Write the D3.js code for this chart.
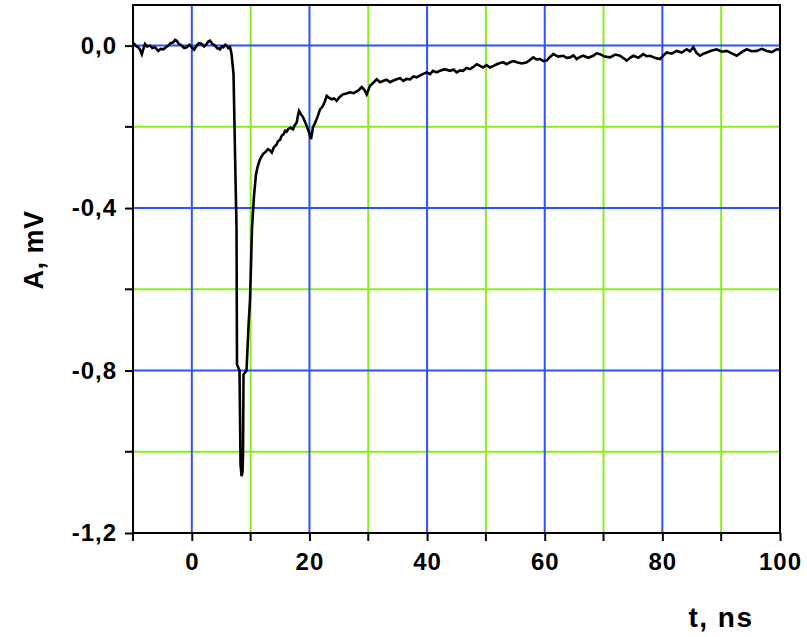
<!DOCTYPE html>
<html>
<head>
<meta charset="utf-8">
<script src="https://cdn.jsdelivr.net/npm/d3@7"></script>
<style>
  html, body { margin: 0; padding: 0; background: #fff; }
  svg { display: block; }
  text { font-family: "Liberation Sans", Arial, Helvetica, sans-serif; font-weight: bold; fill: #000; }
</style>
</head>
<body>
<svg id="chart" width="807" height="637"></svg>
<script>
// Detector response: amplitude (mV) versus time (ns)
const timeNs = [
  -10.0, -9.8, -9.4, -9.1, -8.8, -8.5, -8.2, -7.96, -7.6, -7.1, -6.7, -6.26, -5.9, -5.7, -5.3,
  -4.85, -4.4, -4.0, -3.6, -3.15, -2.85, -2.57, -2.2, -1.72, -1.3, -0.87, -0.4, -0.02, 0.4, 0.83,
  1.2, 1.68, 2.1, 2.53, 2.8, 3.09, 3.5, 3.94, 4.3, 4.79, 5.1, 5.36, 5.7, 5.93, 6.2, 6.49,
  6.75, 7.09, 7.43, 7.6, 7.68, 8.11, 8.28, 8.45, 8.62, 8.70, 8.79, 9.30, 9.64, 9.90,
  10.23, 10.57, 10.91, 11.2, 11.6, 12.1, 12.5, 12.95, 13.3, 13.6, 13.9, 14.15, 14.4, 14.66,
  15.0, 15.28, 15.6, 15.85, 16.1, 16.36, 16.8, 17.2, 17.5, 17.83, 18.0, 18.23, 18.6, 18.9,
  19.2, 19.53, 19.9, 20.27, 20.6, 20.9, 21.23, 21.5, 21.8, 22.05, 22.3, 22.6, 22.93, 23.3,
  23.78, 24.2, 24.63, 25.1, 25.7, 26.3, 26.9, 27.5, 28.26, 28.88, 29.3, 29.73, 30.3, 30.8,
  31.43, 32.0, 32.5, 33.1, 33.7, 34.3, 34.83, 35.4, 35.96, 36.5, 37.1, 37.7, 38.23, 39.0,
  39.93, 40.5, 41.0, 41.6, 42.2, 43.0, 43.9, 44.5, 45.04, 45.6, 46.1, 46.7, 47.3, 47.9,
  48.44, 49.0, 49.5, 50.1, 50.7, 51.3, 51.84, 52.4, 52.96, 53.5, 54.1, 54.7, 55.24, 56.1,
  56.94, 57.5, 58.06, 58.6, 59.2, 59.8, 60.34, 60.9, 61.46, 62.3, 63.16, 63.7, 64.3, 64.9,
  65.44, 66.0, 66.56, 67.4, 68.26, 68.8, 69.4, 70.2, 71.1, 72.0, 72.8, 73.4, 73.94, 74.5,
  75.06, 75.9, 76.76, 77.3, 77.9, 78.7, 79.6, 80.2, 80.74, 81.6, 82.44, 83.3, 84.14, 84.7,
  85.27, 85.8, 86.4, 87.0, 87.54, 88.4, 89.24, 90.1, 90.94, 91.8, 92.64, 93.5, 94.34, 95.2,
  96.04, 96.9, 97.74, 98.6, 99.44, 100.0
];
const ampMv = [
  0.002, 0.004, -0.002, -0.004, -0.010, -0.021, -0.006, 0.004, -0.002, 0.000, -0.006, -0.004, -0.010, -0.013, -0.008,
  -0.009, -0.004, 0.000, 0.006, 0.008, 0.014, 0.012, 0.004, 0.000, -0.006, -0.004, 0.002, -0.004, -0.010, 0.000,
  0.006, 0.004, -0.002, 0.004, 0.010, 0.012, 0.004, 0.000, -0.006, -0.009, -0.002, -0.004, 0.002, 0.000, -0.006, -0.004,
  -0.020, -0.070, -0.330, -0.450, -0.785, -0.800, -1.030, -1.060, -1.050, -1.010, -0.810, -0.800, -0.690, -0.625,
  -0.450, -0.370, -0.317, -0.297, -0.280, -0.267, -0.262, -0.255, -0.258, -0.263, -0.252, -0.247, -0.244, -0.235,
  -0.232, -0.222, -0.218, -0.210, -0.212, -0.206, -0.202, -0.206, -0.196, -0.189, -0.175, -0.161, -0.170, -0.176,
  -0.186, -0.198, -0.212, -0.230, -0.201, -0.192, -0.181, -0.170, -0.157, -0.153, -0.148, -0.138, -0.124, -0.128,
  -0.132, -0.130, -0.136, -0.127, -0.120, -0.118, -0.115, -0.117, -0.111, -0.102, -0.108, -0.120, -0.099, -0.092,
  -0.083, -0.090, -0.087, -0.084, -0.090, -0.086, -0.083, -0.080, -0.087, -0.082, -0.083, -0.076, -0.078, -0.072,
  -0.066, -0.070, -0.062, -0.066, -0.062, -0.058, -0.062, -0.059, -0.066, -0.061, -0.062, -0.055, -0.058, -0.052,
  -0.046, -0.050, -0.054, -0.048, -0.054, -0.050, -0.046, -0.043, -0.041, -0.046, -0.041, -0.038, -0.041, -0.044,
  -0.041, -0.035, -0.029, -0.034, -0.033, -0.038, -0.037, -0.028, -0.021, -0.027, -0.025, -0.030, -0.029, -0.024,
  -0.033, -0.028, -0.025, -0.030, -0.025, -0.019, -0.021, -0.027, -0.029, -0.022, -0.025, -0.031, -0.037, -0.030,
  -0.025, -0.030, -0.021, -0.026, -0.025, -0.030, -0.033, -0.024, -0.017, -0.020, -0.013, -0.017, -0.009, -0.014,
  -0.004, -0.018, -0.025, -0.020, -0.017, -0.012, -0.009, -0.015, -0.013, -0.019, -0.025, -0.016, -0.009, -0.014,
  -0.013, -0.008, -0.013, -0.016, -0.009, -0.010
];

// Axis ticks
const xMajorTicks = [0, 20, 40, 60, 80, 100];
const xMinorTicks = [-10, 10, 30, 50, 70, 90];
const yMajorTicks = [0.0, -0.4, -0.8, -1.2];
const yMinorTicks = [-0.2, -0.6, -1.0];
const xTitle = "t, ns";
const yTitle = "A, mV";

const svg = d3.select("#chart");
const plotLeft = 133, plotRight = 780, plotTop = 5, plotBottom = 533;

const x = d3.scaleLinear().domain([-10, 100]).range([plotLeft, plotRight]);
const y = d3.scaleLinear().domain([-1.2, 0.1]).range([plotBottom, plotTop]);

const commaLocale = d3.formatLocale({
  decimal: ",", thousands: ".", grouping: [3], currency: ["", ""], minus: "-"
});
const fmtY = commaLocale.format(".1f");

const blue = "#2f50ff";
const green = "#86ee1c";

// grid: green at the intermediate ticks, blue at the labelled ones
const grid = svg.append("g");
grid.append("g").selectAll("line").data(xMinorTicks.filter(d => d > -10)).join("line")
  .attr("x1", d => x(d)).attr("x2", d => x(d)).attr("y1", plotTop).attr("y2", plotBottom)
  .attr("stroke", green).attr("stroke-width", 2);
grid.append("g").selectAll("line").data(yMinorTicks).join("line")
  .attr("x1", plotLeft).attr("x2", plotRight).attr("y1", d => y(d)).attr("y2", d => y(d))
  .attr("stroke", green).attr("stroke-width", 2);
grid.append("g").selectAll("line").data(xMajorTicks.filter(d => d < 100)).join("line")
  .attr("x1", d => x(d)).attr("x2", d => x(d)).attr("y1", plotTop).attr("y2", plotBottom)
  .attr("stroke", blue).attr("stroke-width", 2);
grid.append("g").selectAll("line").data(yMajorTicks.filter(d => d > -1.2)).join("line")
  .attr("x1", plotLeft).attr("x2", plotRight).attr("y1", d => y(d)).attr("y2", d => y(d))
  .attr("stroke", blue).attr("stroke-width", 2);

// signal trace
const points = timeNs.map((t, i) => [t, ampMv[i]]);
svg.append("path")
  .datum(points)
  .attr("fill", "none")
  .attr("stroke", "#000")
  .attr("stroke-width", 2.6)
  .attr("stroke-linejoin", "miter")
  .attr("d", d3.line().x(d => x(d[0])).y(d => y(d[1])));

// frame
svg.append("rect")
  .attr("x", plotLeft).attr("y", plotTop)
  .attr("width", plotRight - plotLeft).attr("height", plotBottom - plotTop)
  .attr("fill", "none").attr("stroke", "#000").attr("stroke-width", 2);

// axes
const xAxis = svg.append("g").attr("transform", `translate(0,${plotBottom})`)
  .call(d3.axisBottom(x).tickValues(xMajorTicks).tickFormat(d3.format("d"))
    .tickSize(8).tickSizeOuter(0).tickPadding(12));
xAxis.append("g").selectAll("line").data(xMinorTicks).join("line")
  .attr("x1", d => x(d)).attr("x2", d => x(d)).attr("y1", 0).attr("y2", 8)
  .attr("stroke", "#000").attr("stroke-width", 2);

const yAxis = svg.append("g").attr("transform", `translate(${plotLeft},0)`)
  .call(d3.axisLeft(y).tickValues(yMajorTicks).tickFormat(fmtY)
    .tickSize(8).tickSizeOuter(0).tickPadding(9));
yAxis.append("g").selectAll("line").data(yMinorTicks).join("line")
  .attr("x1", -8).attr("x2", 0).attr("y1", d => y(d)).attr("y2", d => y(d))
  .attr("stroke", "#000").attr("stroke-width", 2);

[xAxis, yAxis].forEach(a => {
  a.select(".domain").remove();
  a.selectAll(".tick line").attr("stroke", "#000").attr("stroke-width", 2);
  a.selectAll(".tick text")
    .attr("font-family", '"Liberation Sans", Arial, sans-serif')
    .attr("font-weight", "bold").attr("font-size", 24).attr("fill", "#000")
    .attr("letter-spacing", 1);
});
// keep right-aligned y labels flush despite letter spacing
yAxis.selectAll(".tick text").attr("dx", 1);

// axis titles
svg.append("text")
  .attr("x", 721).attr("y", 627)
  .attr("text-anchor", "middle").attr("font-size", 28)
  .attr("letter-spacing", 1.5)
  .text(xTitle);
svg.append("text")
  .attr("transform", "translate(43,250) rotate(-90)")
  .attr("text-anchor", "middle").attr("font-size", 27)
  .attr("letter-spacing", 0.5)
  .text(yTitle);
</script>
</body>
</html>
